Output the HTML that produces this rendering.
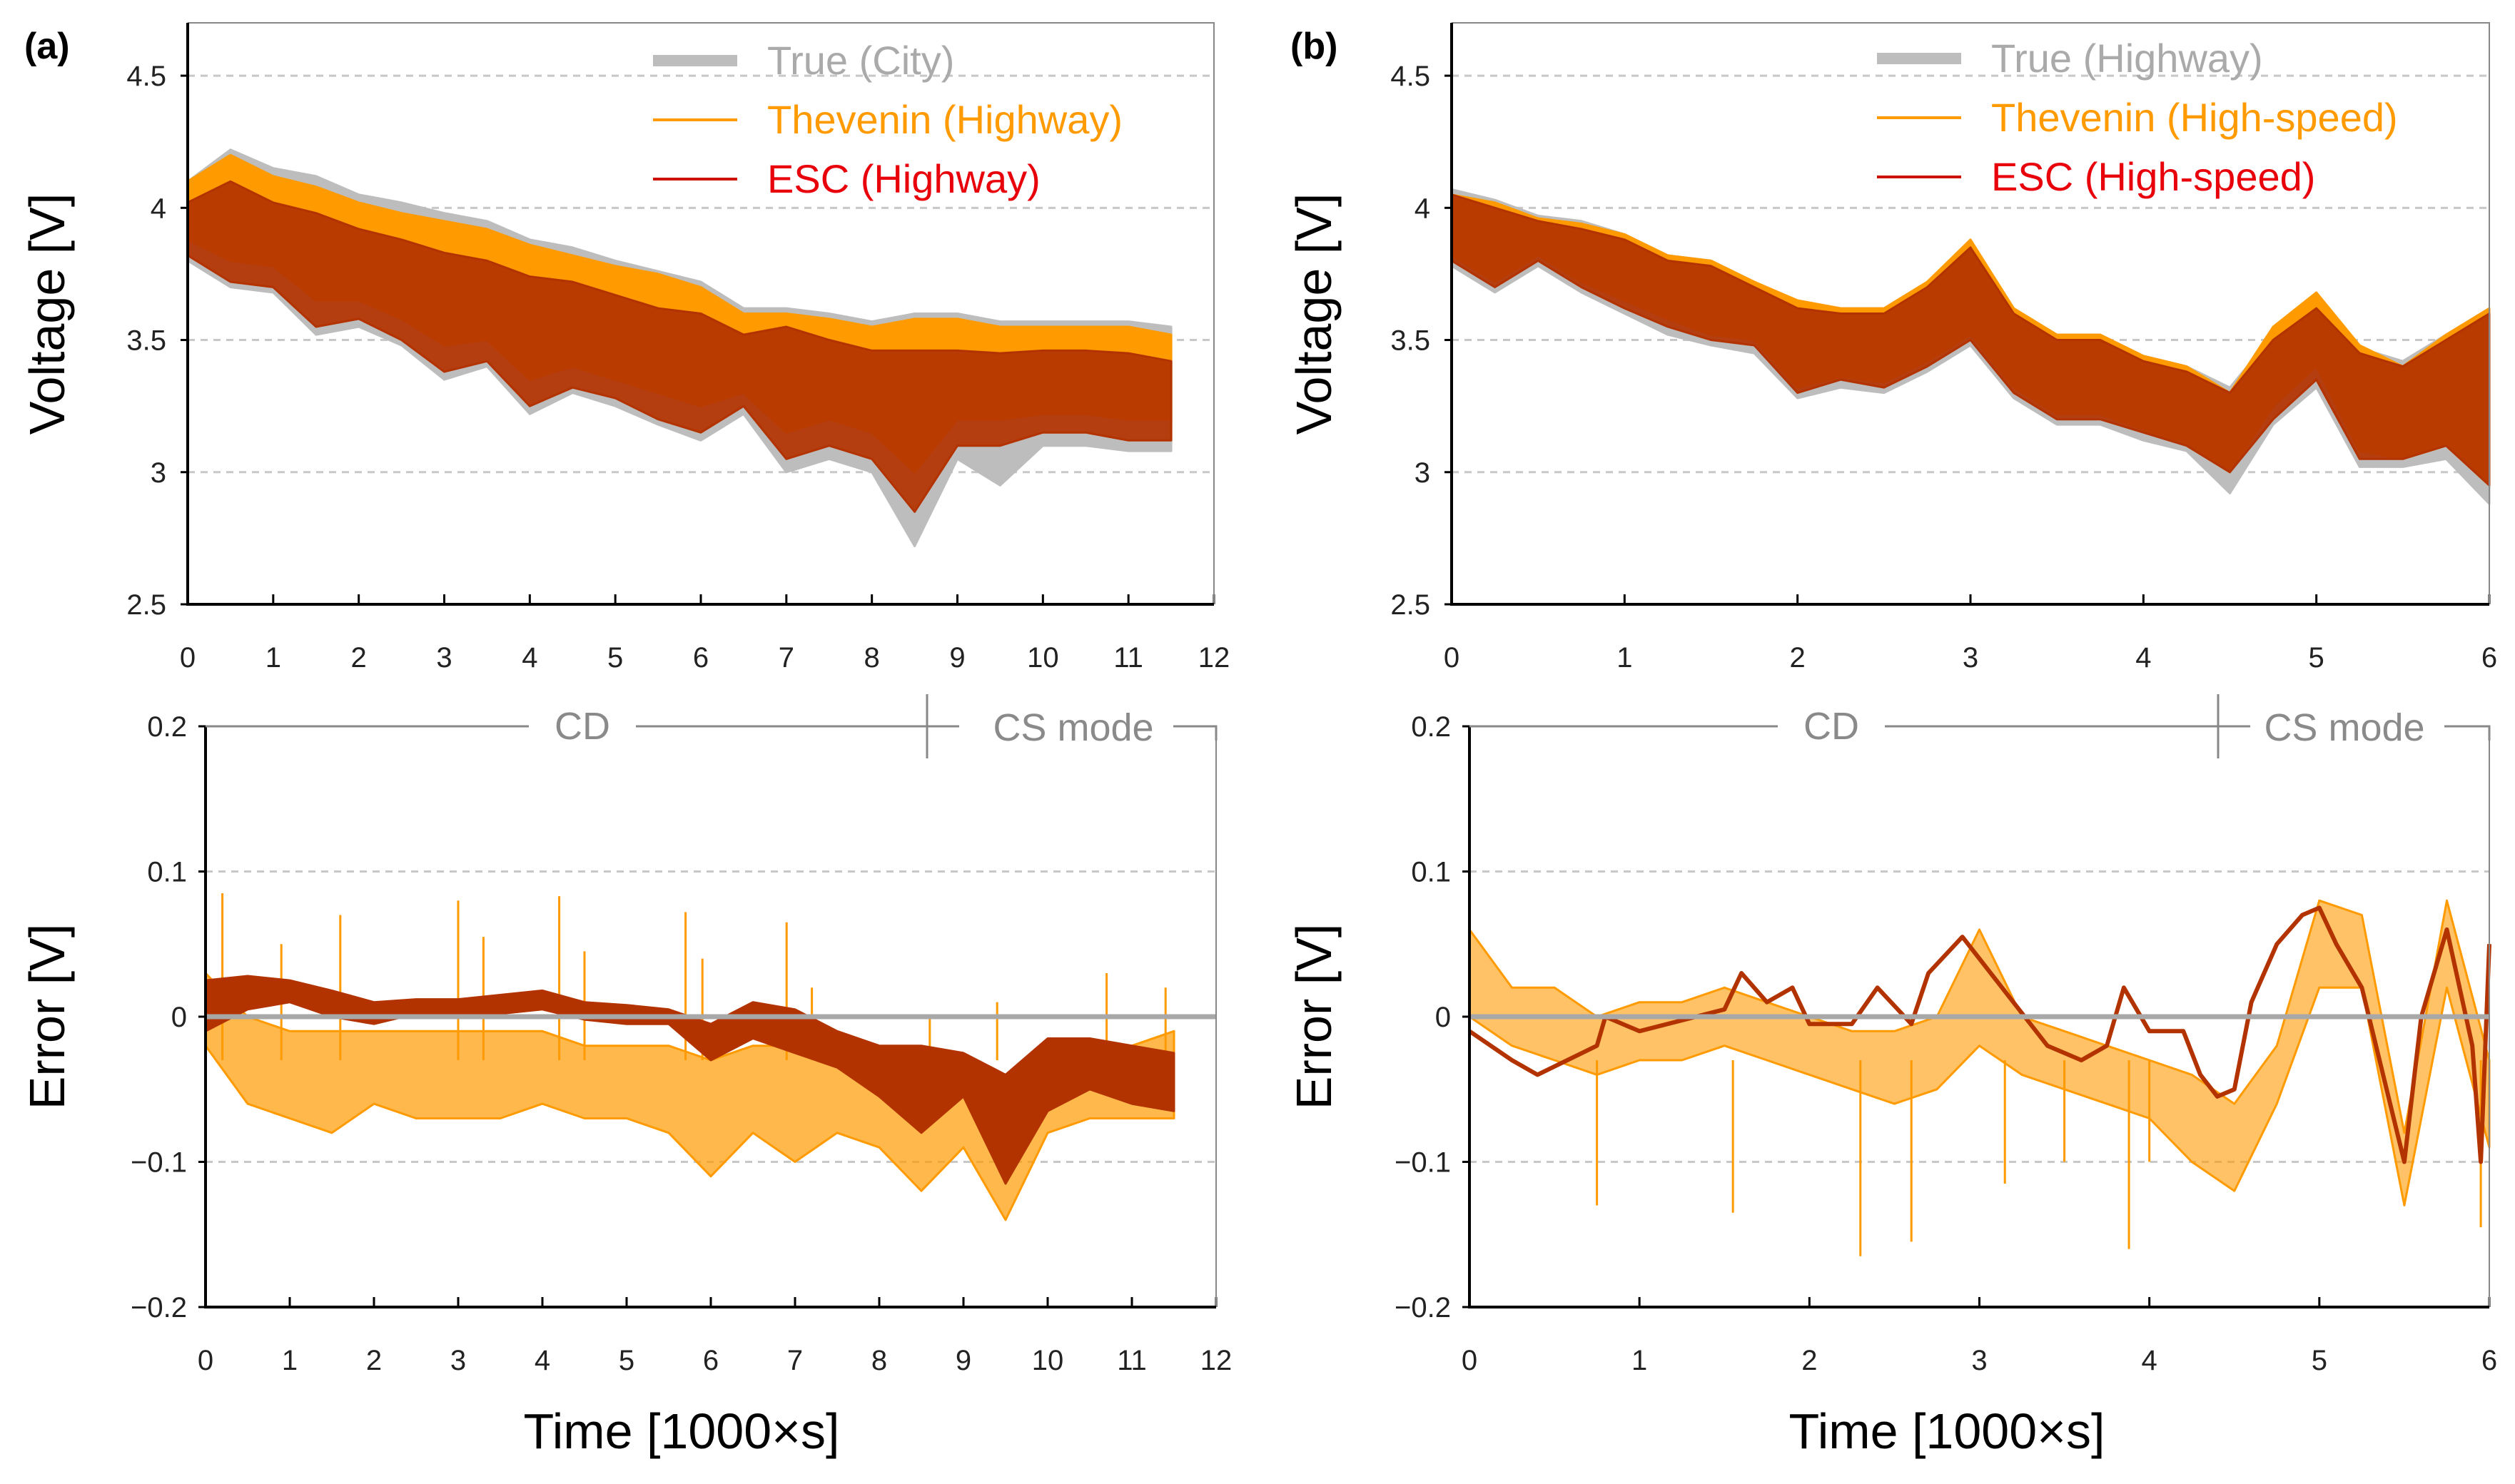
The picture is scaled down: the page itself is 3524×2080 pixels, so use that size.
<!DOCTYPE html>
<html><head><meta charset="utf-8"><style>
html,body{margin:0;padding:0;background:#fff}
svg{display:block}
text{font-family:"Liberation Sans",Arial,sans-serif}
</style></head><body>
<svg id="fig" width="3524" height="2080" viewBox="0 0 3524 2080" xmlns="http://www.w3.org/2000/svg"></svg>
<script>
// ---------- DATA ----------
const tA=[0,0.5,1,1.5,2,2.5,3,3.5,4,4.5,5,5.5,6,6.5,7,7.5,8,8.5,9,9.5,10,10.5,11,11.5];
const aEscHi=[4.02,4.1,4.02,3.98,3.92,3.88,3.83,3.8,3.74,3.72,3.67,3.62,3.6,3.52,3.55,3.5,3.46,3.46,3.46,3.45,3.46,3.46,3.45,3.42];
const aEscLo=[3.82,3.72,3.7,3.55,3.58,3.5,3.38,3.42,3.25,3.32,3.28,3.2,3.15,3.25,3.05,3.1,3.05,2.85,3.1,3.1,3.15,3.15,3.12,3.12];
const aThvHi=[4.1,4.2,4.12,4.08,4.02,3.98,3.95,3.92,3.86,3.82,3.78,3.75,3.7,3.6,3.6,3.58,3.55,3.58,3.58,3.55,3.55,3.55,3.55,3.52];
const aThvLo=[3.88,3.8,3.78,3.65,3.65,3.58,3.48,3.5,3.35,3.4,3.35,3.3,3.25,3.3,3.15,3.2,3.15,3.0,3.2,3.2,3.22,3.22,3.2,3.2];
const aTrueHi=[4.1,4.22,4.15,4.12,4.05,4.02,3.98,3.95,3.88,3.85,3.8,3.76,3.72,3.62,3.62,3.6,3.57,3.6,3.6,3.57,3.57,3.57,3.57,3.55];
const aTrueLo=[3.8,3.7,3.68,3.52,3.55,3.48,3.35,3.4,3.22,3.3,3.25,3.18,3.12,3.22,3.0,3.05,3.0,2.72,3.05,2.95,3.1,3.1,3.08,3.08];
const aErrEscHi=[0.025,0.028,0.025,0.018,0.01,0.012,0.012,0.015,0.018,0.01,0.008,0.005,-0.005,0.01,0.005,-0.01,-0.02,-0.02,-0.025,-0.04,-0.015,-0.015,-0.02,-0.025];
const aErrEscLo=[-0.01,0.005,0.01,0.0,-0.005,0.002,0.002,0.002,0.005,-0.002,-0.005,-0.005,-0.03,-0.015,-0.025,-0.035,-0.055,-0.08,-0.055,-0.115,-0.065,-0.05,-0.06,-0.065];
const aErrThvHi=[0.03,0.0,-0.01,-0.01,-0.01,-0.01,-0.01,-0.01,-0.01,-0.02,-0.02,-0.02,-0.03,-0.02,-0.02,-0.03,-0.04,-0.05,-0.03,-0.07,-0.04,-0.02,-0.02,-0.01];
const aErrThvLo=[-0.02,-0.06,-0.07,-0.08,-0.06,-0.07,-0.07,-0.07,-0.06,-0.07,-0.07,-0.08,-0.11,-0.08,-0.1,-0.08,-0.09,-0.12,-0.09,-0.14,-0.08,-0.07,-0.07,-0.07];
const aSpikeT=[0.2,0.9,1.6,3.0,3.3,4.2,4.5,5.7,5.9,6.9,7.2,8.6,9.4,10.7,11.4];
const aSpikeV=[0.085,0.05,0.07,0.08,0.055,0.083,0.045,0.072,0.04,0.065,0.02,0.0,0.01,0.03,0.02];

const tB=[0,0.25,0.5,0.75,1,1.25,1.5,1.75,2,2.25,2.5,2.75,3,3.25,3.5,3.75,4,4.25,4.5,4.75,5,5.25,5.5,5.75,6];
const bEscHi=[4.05,4.0,3.95,3.92,3.88,3.8,3.78,3.7,3.62,3.6,3.6,3.7,3.85,3.6,3.5,3.5,3.42,3.38,3.3,3.5,3.62,3.45,3.4,3.5,3.6];
const bEscLo=[3.8,3.7,3.8,3.7,3.62,3.55,3.5,3.48,3.3,3.35,3.32,3.4,3.5,3.3,3.2,3.2,3.15,3.1,3.0,3.2,3.35,3.05,3.05,3.1,2.95];
const bThvHi=[4.05,4.02,3.96,3.94,3.9,3.82,3.8,3.72,3.65,3.62,3.62,3.72,3.88,3.62,3.52,3.52,3.44,3.4,3.3,3.55,3.68,3.48,3.4,3.52,3.62];
const bThvLo=[3.82,3.72,3.82,3.72,3.65,3.58,3.52,3.5,3.32,3.36,3.34,3.42,3.52,3.32,3.22,3.22,3.16,3.1,3.0,3.25,3.4,3.08,3.05,3.1,2.95];
const bTrueHi=[4.07,4.03,3.97,3.95,3.9,3.82,3.8,3.72,3.64,3.62,3.62,3.72,3.86,3.62,3.52,3.52,3.44,3.4,3.32,3.52,3.64,3.47,3.42,3.52,3.62];
const bTrueLo=[3.78,3.68,3.78,3.68,3.6,3.52,3.48,3.45,3.28,3.32,3.3,3.38,3.48,3.28,3.18,3.18,3.12,3.08,2.92,3.18,3.32,3.02,3.02,3.05,2.88];
const bErrEscT=[0,0.25,0.4,0.75,0.8,1,1.5,1.6,1.75,1.9,2,2.25,2.4,2.6,2.7,2.9,3,3.2,3.4,3.6,3.75,3.85,4,4.2,4.3,4.4,4.5,4.6,4.75,4.9,5,5.1,5.25,5.5,5.6,5.75,5.9,5.95,6];
const bErrEscV=[-0.01,-0.03,-0.04,-0.02,0.0,-0.01,0.005,0.03,0.01,0.02,-0.005,-0.005,0.02,-0.005,0.03,0.055,0.04,0.01,-0.02,-0.03,-0.02,0.02,-0.01,-0.01,-0.04,-0.055,-0.05,0.01,0.05,0.07,0.075,0.05,0.02,-0.1,0.0,0.06,-0.02,-0.1,0.05];
const bErrThvHi=[0.06,0.02,0.02,0.0,0.01,0.01,0.02,0.01,0.0,-0.01,-0.01,0.0,0.06,0.0,-0.01,-0.02,-0.03,-0.04,-0.06,-0.02,0.08,0.07,-0.08,0.08,-0.03];
const bErrThvLo=[0.0,-0.02,-0.03,-0.04,-0.03,-0.03,-0.02,-0.03,-0.04,-0.05,-0.06,-0.05,-0.02,-0.04,-0.05,-0.06,-0.07,-0.1,-0.12,-0.06,0.02,0.02,-0.13,0.02,-0.09];
const bSpikeT=[0.75,1.55,2.3,2.6,3.15,3.5,3.88,4.0,5.95];
const bSpikeV=[-0.13,-0.135,-0.165,-0.155,-0.115,-0.1,-0.16,-0.1,-0.145];

const xTicksA=[0,1,2,3,4,5,6,7,8,9,10,11,12];
const xTicksB=[0,1,2,3,4,5,6];
const vTicks=[2.5,3,3.5,4,4.5];
const vTickLabels=["2.5","3","3.5","4","4.5"];
const eTicks=[-0.2,-0.1,0,0.1,0.2];
const eTickLabels=["\u22120.2","\u22120.1","0","0.1","0.2"];

// ---------- DRAW ----------
const NS="http://www.w3.org/2000/svg";
const svg=document.getElementById('fig');
function el(tag,attrs,parent){const e=document.createElementNS(NS,tag);for(const k in attrs)e.setAttribute(k,attrs[k]);(parent||svg).appendChild(e);return e;}
const C_ESC="#b33300",C_THV="#ff9a00",C_TRUE="#bdbdbd";

function panel(name,X0,X1,Y0,Y1,xmax,ymin,ymax,ticksY,ticksYL,xt,isErr){
  const g=el('g',{});
  
  
  const sx=v=>X0+(v/xmax)*(X1-X0);
  const sy=v=>Y1-(v-ymin)/(ymax-ymin)*(Y1-Y0);
  ticksY.forEach((v,i)=>{
    if(!isErr && (v===2.5))return;
    if(isErr && (v===0||Math.abs(v)===0.2))return;
    const l=el('line',{x1:X0,x2:X1,y1:sy(v),y2:sy(v),stroke:'#c8c8c8','stroke-width':3,'stroke-dasharray':'10,8'},g);
    
    
  });
  ticksY.forEach((v,i)=>{
    const t=el('text',{x:X0-(isErr?26:30),y:sy(v)+14,'text-anchor':'end','font-size':40,fill:'#222'},g);
    t.textContent=ticksYL[i];
    
    
    const tk=el('line',{x1:X0-10,x2:X0,y1:sy(v),y2:sy(v),stroke:'#000','stroke-width':3},g);
    
    
  });
  xt.forEach(v=>{
    const tk=el('line',{x1:sx(v),x2:sx(v),y1:Y1,y2:Y1-14,stroke:'#000','stroke-width':3},g);
    
    
    const t=el('text',{x:sx(v),y:Y1+88,'text-anchor':'middle','font-size':40,fill:'#222'},g);
    t.textContent=String(v);
    
    
  });
  return {g,sx,sy};
}
function band(p,t,hi,lo,color,name,op){
  let d='M'+t.map((v,i)=>p.sx(v).toFixed(1)+','+p.sy(hi[i]).toFixed(1)).join(' L');
  for(let i=t.length-1;i>=0;i--)d+=' L'+p.sx(t[i]).toFixed(1)+','+p.sy(lo[i]).toFixed(1);
  d+='Z';
  const e=el('path',{d:d,fill:color,'fill-opacity':op||1,stroke:color,'stroke-width':3,'stroke-linejoin':'round'},p.g);
  
  
}
function line(p,t,v,color,w,name){
  const e=el('polyline',{points:t.map((x,i)=>p.sx(x).toFixed(1)+','+p.sy(v[i]).toFixed(1)).join(' '),fill:'none',stroke:color,'stroke-width':w,'stroke-linejoin':'round'},p.g);
  
  
}
function spikes(p,t,v,color,name){
  t.forEach((x,i)=>{
    const e=el('line',{x1:p.sx(x),x2:p.sx(x),y1:p.sy(-0.03),y2:p.sy(v[i]),stroke:color,'stroke-width':3},p.g);
    
    
  });
}
function frame(p,X0,X1,Y0,Y1,isErr){
  if(!isErr){
    const f=el('path',{d:`M${X0},${Y0} L${X1},${Y0} L${X1},${Y1}`,fill:'none',stroke:'#888','stroke-width':2},p.g);
    
    
  } else {
    const f=el('line',{x1:X1,x2:X1,y1:Y0,y2:Y1,stroke:'#888','stroke-width':2},p.g);
    
    
  }
  const ax=el('path',{d:`M${X0},${Y0} L${X0},${Y1} L${X1},${Y1}`,fill:'none',stroke:'#000','stroke-width':4},p.g);
  
  
}
function zeroLine(p,X0,X1){
  const z=el('line',{x1:X0,x2:X1,y1:p.sy(0),y2:p.sy(0),stroke:'#a8a8a8','stroke-width':7},p.g);
  
  
}
function bracket(g,X0,X1,Y0,cdX,divX,csX){
  const s='#888';
  const d=`M${X0},${Y0} L${cdX-75},${Y0} M${cdX+75},${Y0} L${divX+45},${Y0} M${csX+140},${Y0} L${X1},${Y0} L${X1},${Y0+20} M${divX},${Y0-45} L${divX},${Y0+45}`;
  const b=el('path',{d:d,fill:'none',stroke:s,'stroke-width':3},g);
  
  
  const t1=el('text',{x:cdX,y:Y0+18,'text-anchor':'middle','font-size':54,fill:'#8a8a8a'},g);
  t1.textContent='CD';
  
  
  const t2=el('text',{x:csX,y:Y0+20,'text-anchor':'middle','font-size':54,fill:'#8a8a8a'},g);
  t2.textContent='CS mode';
  
  
}
function txt(x,y,s,size,attrs,name){
  const t=el('text',Object.assign({x:x,y:y,'font-size':size,fill:'#000'},attrs||{}));
  t.textContent=s;
  
  
  return t;
}
function legend(x,y,labels){
  const g=el('g',{});
  
  
  const cols=[C_TRUE,C_THV,C_ESC],txc=['#aaaaaa','#ff9a00','#e8000b'],ws=[16,4,4];
  labels.forEach((s,i)=>{
    const yy=y+i*83;
    const l=el('line',{x1:x,x2:x+118,y1:yy,y2:yy,stroke:i===2?'#cc1100':cols[i],'stroke-width':ws[i]},g);
    
    
    const t=el('text',{x:x+160,y:yy+19,'font-size':56,fill:txc[i]},g);
    t.textContent=s;
    
    
  });
}

let p=panel('panel-a-voltage',263,1701,32,847,12,2.5,4.7,vTicks,vTickLabels,xTicksA,false);
band(p,tA,aTrueHi,aTrueLo,C_TRUE,'true-voltage-a');
band(p,tA,aThvHi,aThvLo,C_THV,'thevenin-voltage-a');
band(p,tA,aEscHi,aEscLo,C_ESC,'esc-voltage-a',0.92);
frame(p,263,1701,32,847,false);
legend(915,85,['True (City)','Thevenin  (Highway)','ESC (Highway)']);

p=panel('panel-a-error',288,1704,1018,1832,12,-0.2,0.2,eTicks,eTickLabels,xTicksA,true);
band(p,tA,aErrThvHi,aErrThvLo,C_THV,'thevenin-error-a',0.7);
spikes(p,aSpikeT,aSpikeV,C_THV,'thevenin-error-spike-a');
band(p,tA,aErrEscHi,aErrEscLo,C_ESC,'esc-error-a');
zeroLine(p,288,1704);
frame(p,288,1704,1018,1832,true);
bracket(p.g,288,1704,1018,816,1299,1504);

p=panel('panel-b-voltage',2034,3488,32,847,6,2.5,4.7,vTicks,vTickLabels,xTicksB,false);
band(p,tB,bTrueHi,bTrueLo,C_TRUE,'true-voltage-b');
band(p,tB,bThvHi,bThvLo,C_THV,'thevenin-voltage-b');
band(p,tB,bEscHi,bEscLo,C_ESC,'esc-voltage-b',0.92);
frame(p,2034,3488,32,847,false);
legend(2630,82,['True (Highway)','Thevenin  (High-speed)','ESC (High-speed)']);

p=panel('panel-b-error',2059,3488,1018,1832,6,-0.2,0.2,eTicks,eTickLabels,xTicksB,true);
band(p,tB,bErrThvHi,bErrThvLo,C_THV,'thevenin-error-b',0.6);
spikes(p,bSpikeT,bSpikeV,C_THV,'thevenin-error-spike-b');
line(p,bErrEscT,bErrEscV,C_ESC,6,'esc-error-b');
zeroLine(p,2059,3488);
frame(p,2059,3488,1018,1832,true);
bracket(p.g,2059,3488,1018,2566,3108,3285);

txt(34,82,'(a)',52,{'font-weight':'bold'},'panel-a-label');
txt(1808,82,'(b)',52,{'font-weight':'bold'},'panel-b-label');
txt(90,440,'Voltage [V]',70,{'text-anchor':'middle',transform:'rotate(-90 90 440)'},'y-axis-title-voltage-a');
txt(90,1425,'Error [V]',70,{'text-anchor':'middle',transform:'rotate(-90 90 1425)'},'y-axis-title-error-a');
txt(1865,440,'Voltage [V]',70,{'text-anchor':'middle',transform:'rotate(-90 1865 440)'},'y-axis-title-voltage-b');
txt(1865,1425,'Error [V]',70,{'text-anchor':'middle',transform:'rotate(-90 1865 1425)'},'y-axis-title-error-b');
txt(955,2030,'Time [1000×s]',70,{'text-anchor':'middle'},'x-axis-title-a');
txt(2728,2030,'Time [1000×s]',70,{'text-anchor':'middle'},'x-axis-title-b');
</script>
</body></html>
